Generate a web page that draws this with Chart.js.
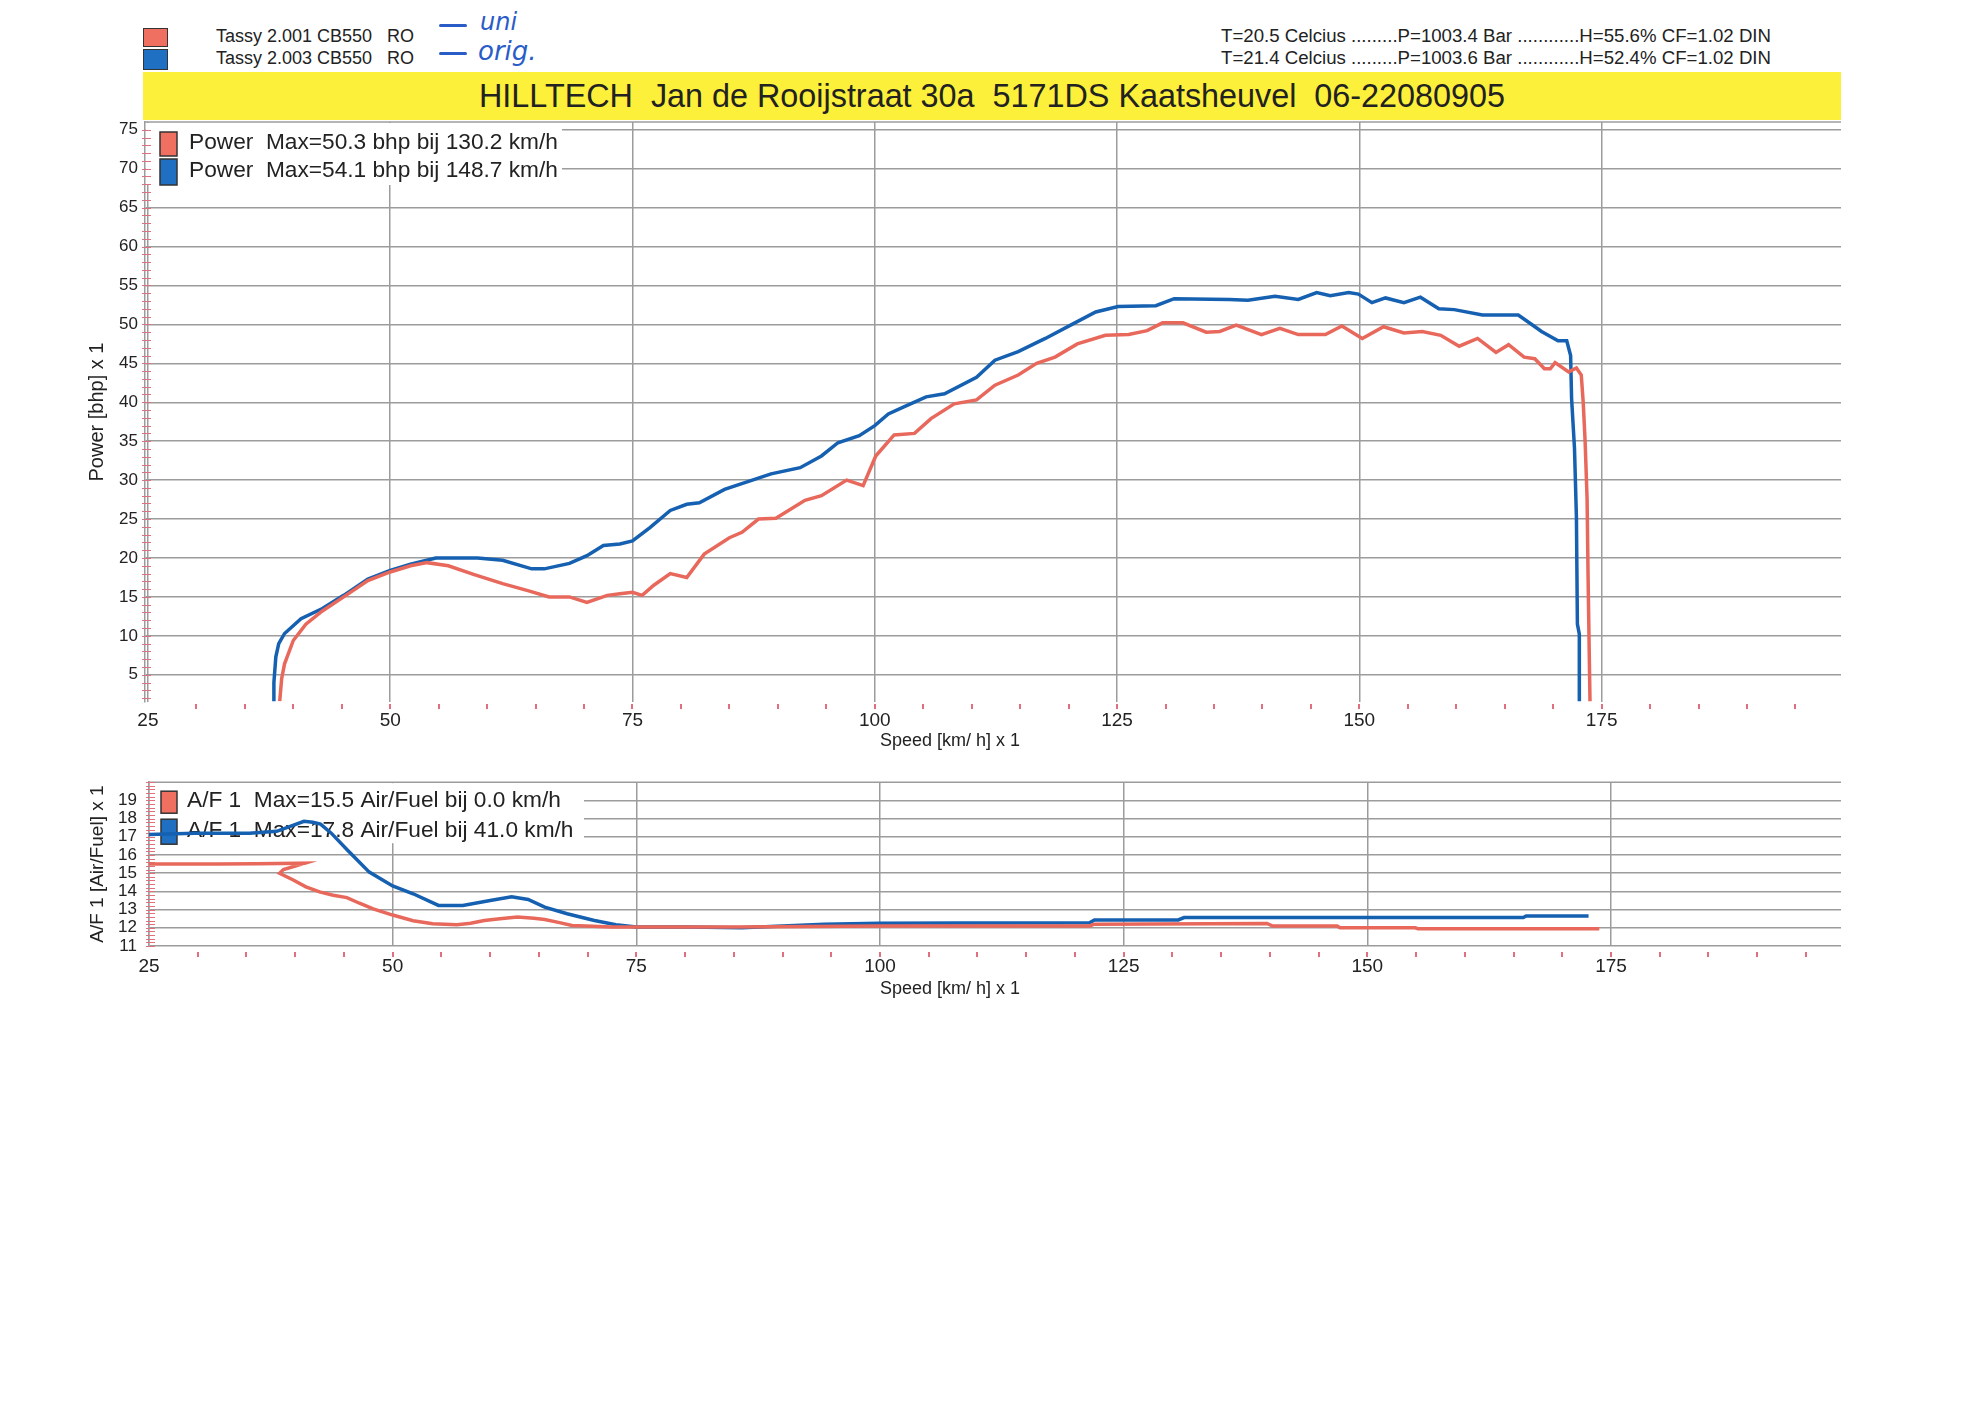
<!DOCTYPE html>
<html lang="nl">
<head>
<meta charset="UTF-8">
<title>HILLTECH vermogensmeting</title>
<script src="https://cdn.jsdelivr.net/npm/chart.js"></script>
<style>
  body { margin: 0; width: 1981px; height: 1402px; position: relative; overflow: hidden; background: #fff; font-family: 'Liberation Sans', Arial, sans-serif; color: #222; }
  .sq { position: absolute; border: 1.5px solid #333; box-sizing: border-box; }
  .txt { position: absolute; white-space: pre; line-height: 1; transform-origin: left center; }
  .hand { position: absolute; white-space: pre; color: #2a5cc8; font-family: 'DejaVu Sans', sans-serif; font-style: italic; line-height: 1; }
  .dash { position: absolute; height: 3px; width: 28px; background: #2a5cc8; border-radius: 2px; }
  .axt { position: absolute; white-space: pre; line-height: 1; font-size: 18px; transform: translateX(-50%); }
  #banner { position: absolute; left: 143px; top: 72px; width: 1698px; height: 48px; background: #fdf03a; }
  #bannerText { position: absolute; left: 50%; top: 7px; white-space: pre; font-family: 'Liberation Sans Narrow', 'Liberation Sans', Arial, sans-serif; font-size: 33px; line-height: 1; color: #222; transform-origin: center center; }
  canvas { position: absolute; left: 0; }
</style>
</head>
<body>
  <div class="sq" style="left:143px;top:28px;width:25px;height:19px;background:#ef6f61"></div>
  <div class="sq" style="left:143px;top:49px;width:25px;height:21px;background:#1f6fc2"></div>
  <div class="txt" style="left:216px;top:27px;font-size:18px">Tassy 2.001 CB550   RO</div>
  <div class="txt" style="left:216px;top:49px;font-size:18px">Tassy 2.003 CB550   RO</div>
  <div class="dash" style="left:439px;top:24px"></div>
  <div class="hand" style="left:480px;top:10px;font-size:24px">uni</div>
  <div class="dash" style="left:439px;top:52px"></div>
  <div class="hand" style="left:478px;top:38px;font-size:26px">orig.</div>
  <div class="txt fit" data-w="550" style="left:1221px;top:27px;font-size:18px">T=20.5 Celcius .........P=1003.4 Bar ............H=55.6% CF=1.02 DIN</div>
  <div class="txt fit" data-w="550" style="left:1221px;top:49px;font-size:18px">T=21.4 Celcius .........P=1003.6 Bar ............H=52.4% CF=1.02 DIN</div>
  <div id="banner"><span id="bannerText">HILLTECH  Jan de Rooijstraat 30a  5171DS Kaatsheuvel  06-22080905</span></div>

  <canvas id="power" width="1981" height="660" style="top:100px"></canvas>
  <canvas id="afr" width="1981" height="240" style="top:760px"></canvas>
  <div class="axt" style="left:950px;top:731px">Speed [km/ h] x 1</div>
  <div class="axt" style="left:950px;top:979px">Speed [km/ h] x 1</div>

<script>
// ---- data ----
const speedTicks = [25, 50, 75, 100, 125, 150, 175];
const powerTicks = [5, 10, 15, 20, 25, 30, 35, 40, 45, 50, 55, 60, 65, 70, 75];
const afrTicks = [11, 12, 13, 14, 15, 16, 17, 18, 19];

// run 2.001 (uni) - red
const powerSpeedUni = [38.6, 38.8, 39.1, 40.0, 41.3, 43.0, 45.2, 47.7, 50.0, 52.1, 53.8, 56.0, 58.6, 61.6, 64.2, 66.4, 68.5, 70.3, 72.4, 73.7, 75.0, 76.0, 77.2, 78.9, 80.6, 82.4, 85.0, 86.3, 88.0, 89.8, 92.8, 94.5, 97.1, 98.8, 100.1, 102.0, 104.1, 105.8, 108.2, 110.5, 112.4, 114.8, 116.7, 118.6, 120.9, 123.8, 126.2, 128.1, 129.7, 131.8, 134.2, 135.6, 137.3, 139.9, 141.8, 143.7, 146.5, 148.2, 150.3, 152.5, 154.6, 156.5, 158.4, 160.3, 162.2, 164.1, 165.4, 167.0, 168.1, 169.1, 169.7, 170.2, 171.6, 172.4, 172.9, 173.1, 173.3, 173.5, 173.6, 173.8];
const powerUni = [1.6, 4.5, 6.4, 9.4, 11.5, 13.2, 15.0, 17.1, 18.2, 19.0, 19.4, 19.0, 17.9, 16.7, 15.8, 15.0, 15.0, 14.3, 15.2, 15.4, 15.6, 15.2, 16.5, 18.0, 17.5, 20.5, 22.6, 23.3, 25.0, 25.1, 27.4, 28.0, 30.0, 29.3, 33.1, 35.8, 36.0, 37.9, 39.8, 40.3, 42.2, 43.5, 45.0, 45.8, 47.5, 48.6, 48.7, 49.2, 50.2, 50.2, 49.0, 49.1, 49.9, 48.7, 49.5, 48.7, 48.7, 49.8, 48.2, 49.7, 48.9, 49.1, 48.6, 47.2, 48.2, 46.4, 47.4, 45.8, 45.6, 44.3, 44.3, 45.1, 43.9, 44.4, 43.5, 40.0, 34.9, 27.6, 17.8, 1.6];

// run 2.003 (orig.) - blue
const powerSpeedOrig = [38.0, 38.0, 38.2, 38.5, 39.1, 40.8, 43.0, 45.2, 47.7, 50.0, 52.1, 54.7, 59.0, 61.6, 64.6, 65.9, 68.5, 70.3, 72.0, 73.7, 75.0, 76.8, 78.9, 80.6, 81.9, 84.5, 87.6, 89.3, 92.3, 94.5, 96.2, 98.4, 100.0, 101.4, 103.0, 105.3, 107.2, 110.5, 112.4, 114.8, 117.6, 120.5, 122.8, 125.1, 129.0, 130.9, 136.6, 138.5, 141.3, 143.7, 145.6, 147.0, 148.9, 149.9, 151.3, 152.7, 154.6, 156.3, 158.2, 159.8, 162.7, 166.4, 167.9, 168.8, 170.5, 171.4, 171.8, 171.9, 172.2, 172.4, 172.5, 172.7, 172.7];
const powerOrig = [1.6, 4.0, 7.3, 9.0, 10.3, 12.2, 13.5, 15.2, 17.3, 18.4, 19.2, 20.0, 20.0, 19.7, 18.6, 18.6, 19.3, 20.3, 21.6, 21.8, 22.2, 23.9, 26.1, 26.9, 27.1, 28.8, 30.1, 30.8, 31.6, 33.1, 34.8, 35.7, 37.0, 38.5, 39.4, 40.7, 41.1, 43.2, 45.4, 46.5, 48.2, 50.1, 51.6, 52.3, 52.4, 53.3, 53.2, 53.1, 53.6, 53.2, 54.1, 53.7, 54.1, 53.9, 52.8, 53.4, 52.8, 53.5, 52.0, 51.9, 51.2, 51.2, 49.9, 49.1, 47.9, 47.9, 46.0, 40.5, 34.1, 25.2, 11.5, 10.2, 1.6];

const afrSpeedUni = [25.0, 32.0, 36.0, 41.0, 38.8, 38.4, 39.8, 41.1, 42.5, 43.9, 45.3, 46.6, 48.0, 50.0, 52.1, 54.1, 56.6, 58.0, 59.4, 61.0, 62.8, 64.5, 65.6, 67.0, 68.4, 70.5, 72.4, 75.0, 85.0, 100.0, 111.2, 121.5, 122.0, 139.7, 140.3, 146.9, 147.2, 154.9, 155.2, 173.8];
const afrUni = [15.5, 15.5, 15.52, 15.55, 15.2, 15.0, 14.63, 14.25, 13.97, 13.79, 13.66, 13.35, 13.04, 12.7, 12.39, 12.22, 12.17, 12.25, 12.4, 12.5, 12.59, 12.52, 12.46, 12.3, 12.13, 12.08, 12.04, 12.04, 12.05, 12.1, 12.1, 12.1, 12.2, 12.24, 12.1, 12.1, 12.0, 12.0, 11.95, 11.95];

const afrSpeedOrig = [25.0, 29.7, 35.3, 38.1, 40.9, 41.8, 42.6, 43.7, 45.4, 47.6, 50.0, 52.1, 54.7, 57.2, 60.0, 62.2, 63.9, 65.6, 67.9, 70.7, 72.9, 75.0, 80.2, 85.8, 90.0, 94.3, 99.9, 108.3, 121.5, 122.0, 130.6, 131.2, 166.0, 166.3, 172.7];
const afrOrig = [17.13, 17.2, 17.2, 17.3, 17.85, 17.8, 17.7, 17.2, 16.25, 15.06, 14.3, 13.87, 13.23, 13.23, 13.5, 13.7, 13.56, 13.14, 12.77, 12.4, 12.17, 12.04, 12.04, 12.0, 12.1, 12.2, 12.25, 12.27, 12.28, 12.43, 12.43, 12.56, 12.56, 12.65, 12.65];

const RED = '#e8685c';
const BLUE = '#1560b0';
const GRID = '#9c9c9c';
const TICKRED = '#e0707e';
const FONT = 'Liberation Sans, Arial, sans-serif';

function zip(xs, ys) { return xs.map((x, i) => ({ x: x, y: ys[i] })); }

// legend box painted after the grid, before the curves (curves cross it on the sheet)
const boxLegend = {
  id: 'boxLegend',
  beforeDatasetsDraw(chart, args, o) {
    const { ctx, chartArea: a } = chart;
    ctx.save();
    ctx.fillStyle = '#fff';
    ctx.fillRect(a.left + 1, a.top + 1, o.w, o.h);
    ctx.font = o.size + 'px ' + FONT;
    ctx.textBaseline = 'alphabetic';
    o.rows.forEach(r => {
      ctx.fillStyle = r.color;
      ctx.fillRect(a.left + o.sx, a.top + r.sy, o.sw, r.sh);
      ctx.strokeStyle = '#333';
      ctx.lineWidth = 1.5;
      ctx.strokeRect(a.left + o.sx, a.top + r.sy, o.sw, r.sh);
      ctx.fillStyle = '#222';
      ctx.fillText(r.text, a.left + o.tx, a.top + r.base);
    });
    ctx.restore();
  }
};

// top frame line, red ruler on the value axis and red marks under the speed axis
const ruler = {
  id: 'ruler',
  beforeDatasetsDraw(chart, args, o) {
    const { ctx, chartArea: a, scales } = chart;
    ctx.save();
    ctx.strokeStyle = GRID;
    ctx.lineWidth = 1.5;
    ctx.beginPath();
    ctx.moveTo(a.left, a.top);
    ctx.lineTo(a.right, a.top);
    ctx.stroke();

    ctx.strokeStyle = TICKRED;
    ctx.lineWidth = 1;
    ctx.beginPath();
    for (let v = o.yFrom; v <= o.yTo + 1e-6; v += o.yStep) {
      const y = Math.round(scales.y.getPixelForValue(v)) + 0.5;
      ctx.moveTo(a.left - 3, y);
      ctx.lineTo(a.left + 6, y);
    }
    ctx.stroke();

    ctx.lineWidth = 2;
    ctx.beginPath();
    for (let v = 30; v <= 195; v += 5) {
      const x = Math.round(scales.x.getPixelForValue(v));
      ctx.moveTo(x, a.bottom + o.xGap);
      ctx.lineTo(x, a.bottom + o.xGap + 5);
    }
    ctx.stroke();
    ctx.restore();
  }
};

Chart.defaults.font.family = FONT;
Chart.defaults.color = '#222';

function tickList(arr) { return s => { s.ticks = arr.map(v => ({ value: v })); }; }

new Chart(document.getElementById('power'), {
  type: 'line',
  data: {
    datasets: [
      { data: zip(powerSpeedUni, powerUni), borderColor: RED, borderWidth: 3.5, pointRadius: 0, tension: 0 },
      { data: zip(powerSpeedOrig, powerOrig), borderColor: BLUE, borderWidth: 3.5, pointRadius: 0, tension: 0 }
    ]
  },
  options: {
    responsive: false,
    animation: false,
    layout: { padding: { left: 0, right: 140, top: 22, bottom: 0 } },
    plugins: {
      legend: { display: false },
      tooltip: { enabled: false },
      boxLegend: {
        w: 416, h: 62, size: 22.7, sx: 15, sw: 17, tx: 44,
        rows: [
          { color: '#ef6f61', sy: 10, sh: 24, base: 27, text: 'Power  Max=50.3 bhp bij 130.2 km/h' },
          { color: '#1f6fc2', sy: 37, sh: 26, base: 55, text: 'Power  Max=54.1 bhp bij 148.7 km/h' }
        ]
      },
      ruler: { yFrom: 2, yTo: 75, yStep: 1, xGap: 2 }
    },
    scales: {
      x: {
        type: 'linear', min: 24.7, max: 199.7,
        afterBuildTicks: tickList(speedTicks),
        afterFit: s => { s.height = 58; },
        grid: { color: GRID, lineWidth: 1.5, drawTicks: false },
        border: { display: false },
        ticks: { padding: 7, font: { size: 19 }, maxRotation: 0, autoSkip: false },
        title: { display: false }
      },
      y: {
        min: 1.5, max: 76,
        afterBuildTicks: tickList(powerTicks),
        afterFit: s => { s.width = 145; },
        grid: { color: GRID, lineWidth: 1.5, drawTicks: false },
        border: { display: true, color: GRID, width: 1.5 },
        ticks: { padding: 7, font: { size: 17 }, autoSkip: false },
        title: { display: true, text: 'Power [bhp] x 1', font: { size: 20 }, padding: { top: 85, bottom: 0 } }
      }
    }
  },
  plugins: [boxLegend, ruler]
});

new Chart(document.getElementById('afr'), {
  type: 'line',
  data: {
    datasets: [
      { data: zip(afrSpeedUni, afrUni), borderColor: RED, borderWidth: 3.5, pointRadius: 0, tension: 0 },
      { data: zip(afrSpeedOrig, afrOrig), borderColor: BLUE, borderWidth: 3.5, pointRadius: 0, tension: 0 }
    ]
  },
  options: {
    responsive: false,
    animation: false,
    layout: { padding: { left: 0, right: 140, top: 22, bottom: 0 } },
    plugins: {
      legend: { display: false },
      tooltip: { enabled: false },
      boxLegend: {
        w: 434, h: 60, size: 22.7, sx: 12, sw: 16, tx: 38,
        rows: [
          { color: '#ef6f61', sy: 9, sh: 22, base: 25, text: 'A/F 1  Max=15.5 Air/Fuel bij 0.0 km/h' },
          { color: '#1f6fc2', sy: 37, sh: 25, base: 55, text: 'A/F 1  Max=17.8 Air/Fuel bij 41.0 km/h' }
        ]
      },
      ruler: { yFrom: 11, yTo: 20, yStep: 0.2, xGap: 6 }
    },
    scales: {
      x: {
        type: 'linear', min: 25, max: 198.6,
        afterBuildTicks: tickList(speedTicks),
        afterFit: s => { s.height = 54; },
        grid: { color: GRID, lineWidth: 1.5, drawTicks: false },
        border: { display: false },
        ticks: { padding: 9, font: { size: 19 }, maxRotation: 0, autoSkip: false },
        title: { display: false }
      },
      y: {
        min: 11, max: 20,
        afterBuildTicks: tickList(afrTicks),
        afterFit: s => { s.width = 149; },
        grid: { color: GRID, lineWidth: 1.5, drawTicks: false },
        border: { display: true, color: GRID, width: 1.5 },
        ticks: { padding: 12, font: { size: 17 }, autoSkip: false },
        title: { display: true, text: 'A/F 1 [Air/Fuel] x 1', font: { size: 19 }, padding: { top: 86, bottom: 0 } }
      }
    }
  },
  plugins: [boxLegend, ruler]
});

// squeeze the header lines to the width they have on the sheet
document.querySelectorAll('.fit').forEach(el => {
  const w = el.getBoundingClientRect().width;
  el.style.transform = 'scaleX(' + (el.dataset.w / w) + ')';
});
const bt = document.getElementById('bannerText');
const bw = bt.getBoundingClientRect().width;
bt.style.transform = 'translateX(-50%) scaleX(' + (1026 / bw) + ')';
</script>
</body>
</html>
